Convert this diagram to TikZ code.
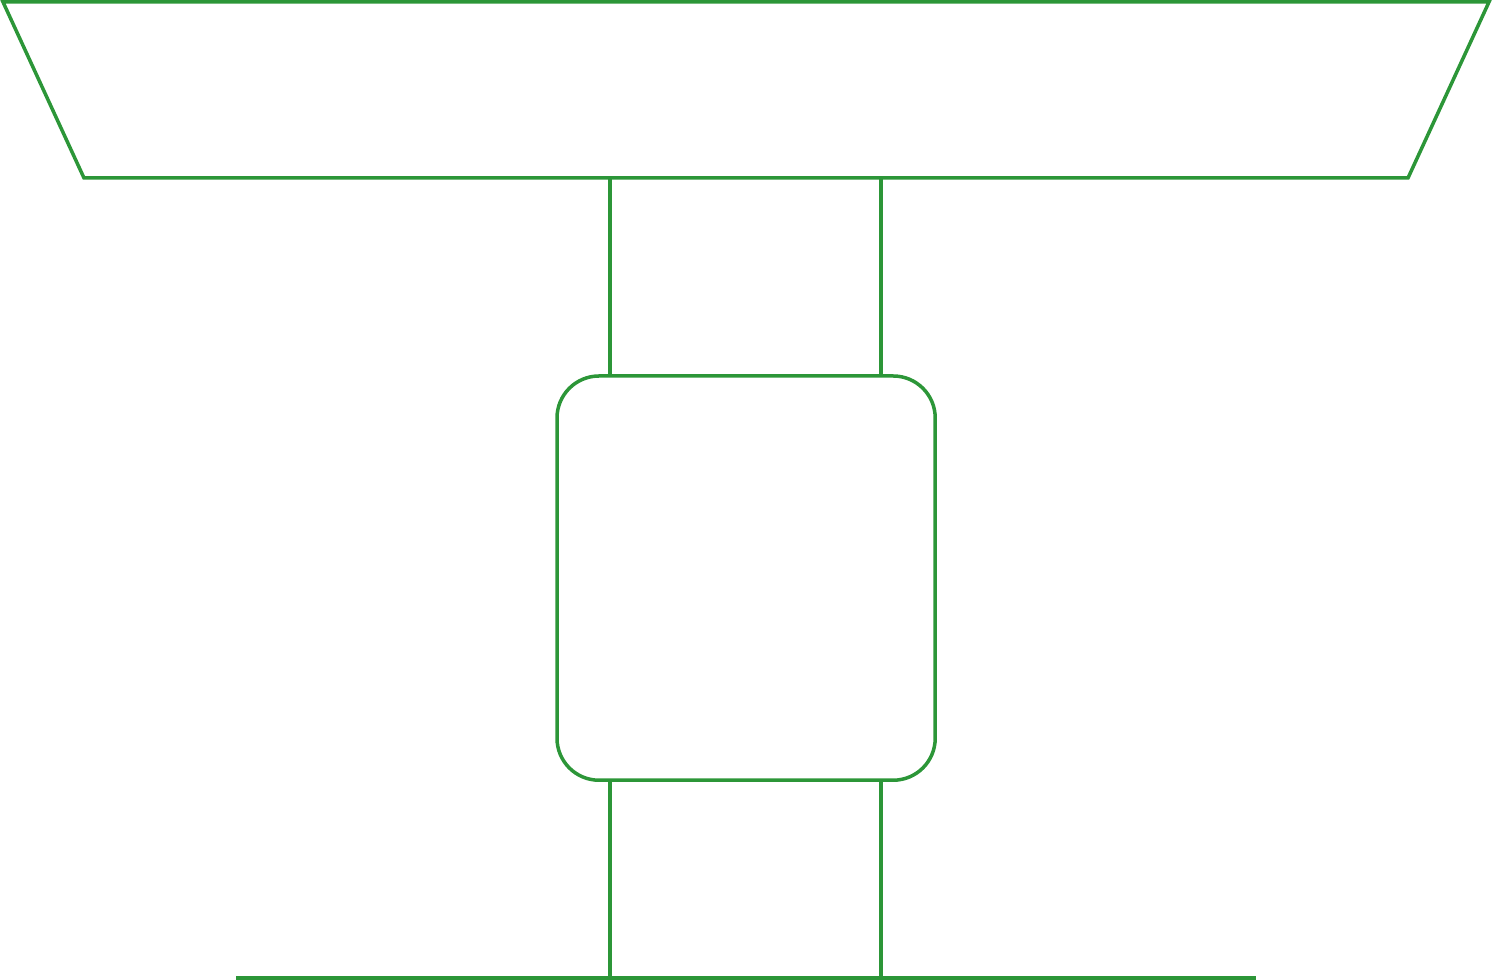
\documentclass[tikz,border=0pt]{standalone}
\usetikzlibrary{calc}
\definecolor{lg}{RGB}{44,150,56}
\begin{document}
\begin{tikzpicture}[x=0.01cm,y=-0.01cm,
  part/.style={draw=lg,line width=0.035cm,line join=miter}]
\useasboundingbox (0,0) rectangle (1493,980);
% top tray
\coordinate (tl) at (3,2);
\coordinate (tr) at (1489,2);
\coordinate (br) at (1408,178);
\coordinate (bl) at (84,178);
\draw[part] (tl) -- (tr) -- (br) -- (bl) -- cycle;
% column upper
\coordinate (u1) at (610,178);
\coordinate (u2) at (881,178);
\coordinate (m1) at (610,376);
\coordinate (m2) at (881,376);
\draw[part] (u1) -- (m1);
\draw[part] (u2) -- (m2);
% central box
\node[part,rounded corners=0.42cm,minimum width=3.78cm,minimum height=4.04cm,inner sep=0pt,outer sep=0pt,anchor=north west] (box) at (557,376) {};
% column lower
\coordinate (l1) at (610,780);
\coordinate (l2) at (881,780);
\coordinate (f1) at (610,978);
\coordinate (f2) at (881,978);
\draw[part] (l1) -- (f1);
\draw[part] (l2) -- (f2);
% base line
\coordinate (b1) at (236,978);
\coordinate (b2) at (1256,978);
\draw[part] (b1) -- (b2);
\end{tikzpicture}
\end{document}
